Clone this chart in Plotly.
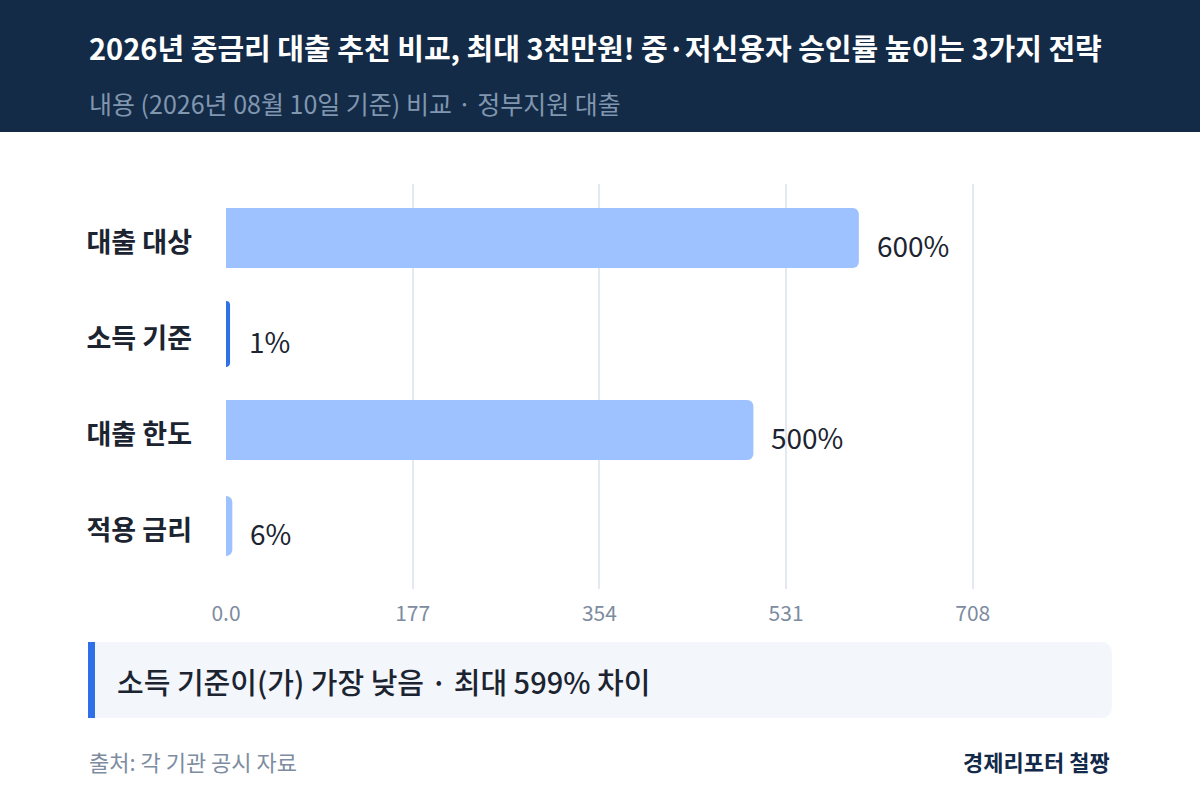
import plotly.graph_objects as go

# ---- data ----
categories = ["대출 대상", "소득 기준", "대출 한도", "적용 금리"]
values = [600, 1, 500, 6]
value_labels = ["600%", "1%", "500%", "6%"]
tick_vals = [0, 177, 354, 531, 708]
tick_text = ["0.0", "177", "354", "531", "708"]

title = "2026년 중금리 대출 추천 비교, 최대 3천만원! 중·저신용자 승인률 높이는 3가지 전략"
subtitle = "내용 (2026년 08월 10일 기준) 비교 · 정부지원 대출"
callout = "소득 기준이(가) 가장 낮음 · 최대 599% 차이"
source = "출처: 각 기관 공시 자료"
brand = "경제리포터 철짱"

FONT = "Noto Sans CJK KR"
W, H = 1200, 800
L, R, T, B = 226, 1112, 184, 589
PW, PH = R - L, B - T

def px(x):
    return (x - L) / PW

def py(y):
    return (B - y) / PH

light = "#9EC2FF"
dark = "#2F6FE8"
min_i = values.index(min(values))
colors = [dark if i == min_i else light for i in range(len(values))]
line_w = [6 if i == min_i else 0 for i in range(len(values))]

fig = go.Figure()
fig.add_trace(go.Bar(
    x=values, y=categories, orientation="h",
    marker=dict(color=colors, line=dict(color=colors, width=line_w)),
    width=0.625, hoverinfo="skip",
))

annotations = []
for c, v, t in zip(categories, values, value_labels):
    annotations.append(dict(x=v, y=c, xref="x", yref="y", text=t, showarrow=False,
                            xanchor="left", xshift=16 if v > 3 else 20, yshift=-7,
                            font=dict(family=FONT, size=28, color="#1B2430")))

# header
annotations.append(dict(x=px(87), y=py(47), xref="paper", yref="paper", text=title,
                        showarrow=False, xanchor="left", yanchor="middle",
                        font=dict(family=FONT, size=29, color="#FFFFFF", weight=600)))
annotations.append(dict(x=px(87), y=py(103), xref="paper", yref="paper", text=subtitle,
                        showarrow=False, xanchor="left", yanchor="middle",
                        font=dict(family=FONT, size=25, color="#8196AF")))
# callout
annotations.append(dict(x=px(115), y=py(681), xref="paper", yref="paper", text=callout,
                        showarrow=False, xanchor="left", yanchor="middle",
                        font=dict(family=FONT, size=29, color="#1B2430", weight=500)))
# footer
annotations.append(dict(x=px(87), y=py(761), xref="paper", yref="paper", text=source,
                        showarrow=False, xanchor="left", yanchor="middle",
                        font=dict(family=FONT, size=22, color="#7D8CA0")))
annotations.append(dict(x=px(1112), y=py(761), xref="paper", yref="paper", text=brand,
                        showarrow=False, xanchor="right", yanchor="middle",
                        font=dict(family=FONT, size=22, color="#13294A", weight=700)))

# rounded callout box path (right corners rounded)
r = 12
x0, x1, y0, y1 = 88, 1112, 642, 718
path = (f"M {px(x0)},{py(y0)} L {px(x1 - r)},{py(y0)} "
        f"Q {px(x1)},{py(y0)} {px(x1)},{py(y0 + r)} "
        f"L {px(x1)},{py(y1 - r)} Q {px(x1)},{py(y1)} {px(x1 - r)},{py(y1)} "
        f"L {px(x0)},{py(y1)} Z")

shapes = [
    dict(type="rect", xref="paper", yref="paper", x0=px(0), x1=px(W), y0=py(0), y1=py(132),
         fillcolor="#132B47", line=dict(width=0), layer="below"),
    dict(type="path", xref="paper", yref="paper", path=path,
         fillcolor="#F3F6FB", line=dict(width=0), layer="below"),
    dict(type="rect", xref="paper", yref="paper", x0=px(88), x1=px(95), y0=py(642), y1=py(718),
         fillcolor="#2F6FE8", line=dict(width=0), layer="below"),
]

fig.update_layout(
    width=W, height=H,
    margin=dict(l=L, r=W - R, t=T, b=H - B, pad=0),
    paper_bgcolor="#FFFFFF", plot_bgcolor="#FFFFFF",
    showlegend=False,
    barcornerradius=6,
    annotations=annotations,
    shapes=shapes,
    font=dict(family=FONT),
)
fig.update_xaxes(
    range=[0, 840], tickvals=tick_vals, ticktext=tick_text,
    showgrid=True, gridcolor="#E4E9F0", gridwidth=2,
    zeroline=False, showline=False, ticks="",
    tickfont=dict(family=FONT, size=21, color="#7D8CA0"),
    ticklabelstandoff=10, fixedrange=True,
)
fig.update_yaxes(
    range=[3.656, -0.5625], showgrid=False, zeroline=False, showline=False, ticks="",
    tickfont=dict(family=FONT, size=27, color="#1B2430", weight=700),
    ticklabelstandoff=33, ticklabelshift=-5, fixedrange=True,
)

fig.write_html("out.html", config={"displayModeBar": False},
               post_script="document.body.style.margin='0';")
